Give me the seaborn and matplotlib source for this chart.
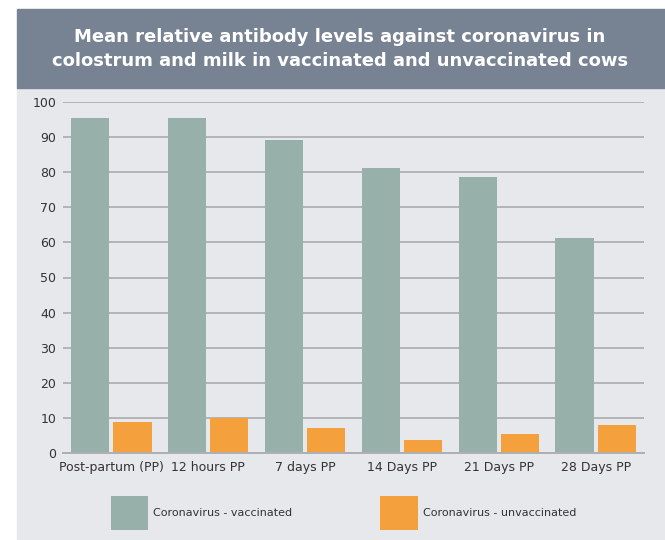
import pandas as pd
import matplotlib
matplotlib.use("Agg")
import matplotlib.pyplot as plt
from matplotlib.patches import Rectangle
import seaborn as sns

# Data
timepoints = ["Post-partum (PP)", "12 hours PP", "7 days PP",
              "14 Days PP", "21 Days PP", "28 Days PP"]
vaccinated = [95.4, 95.4, 89.3, 81.3, 78.7, 61.2]
unvaccinated = [8.9, 10.0, 7.1, 3.7, 5.3, 8.1]
series_names = ["Coronavirus - vaccinated", "Coronavirus - unvaccinated"]
y_ticks = list(range(0, 101, 10))

df = pd.DataFrame({
    "timepoint": timepoints * 2,
    "value": vaccinated + unvaccinated,
    "series": [series_names[0]] * len(timepoints) + [series_names[1]] * len(timepoints),
})

panel_color = "#e7e8ec"
band_color = "#778293"
palette = {series_names[0]: "#97b0a9", series_names[1]: "#f4a03d"}

sns.set_theme(style="white")
plt.rcParams["font.family"] = ["DejaVu Sans"]

fig = plt.figure(figsize=(6.65, 5.4), dpi=100)
fig.patch.set_facecolor("white")

# grey panel + title band (behind the axes)
fig.patches.append(Rectangle((17 / 665, 0), 1 - 17 / 665, (540 - 88) / 540,
                             transform=fig.transFigure, color=panel_color, zorder=-2))
fig.patches.append(Rectangle((17 / 665, (540 - 88) / 540), 1 - 17 / 665, 79 / 540,
                             transform=fig.transFigure, color=band_color, zorder=-2))
fig.text(340 / 665, (540 - 49) / 540,
         "Mean relative antibody levels against coronavirus in\n"
         "colostrum and milk in vaccinated and unvaccinated cows",
         ha="center", va="center", color="white", fontsize=13,
         fontweight="bold", linespacing=1.45)

ax = fig.add_axes([63 / 665, (540 - 453) / 540, 581 / 665, 351 / 540])
ax.set_facecolor(panel_color)

sns.barplot(data=df, x="timepoint", y="value", hue="series", palette=palette,
            width=0.87, gap=0.095, saturation=1, linewidth=0, ax=ax)

ax.set_xlim(-0.5, 5.5)
ax.set_ylim(0, 100)
ax.set_yticks(y_ticks)
ax.set_xlabel("")
ax.set_ylabel("")
ax.set_axisbelow(True)
ax.yaxis.grid(True, color="#b3b4b8", linewidth=1.4)
for side in ["top", "right", "left"]:
    ax.spines[side].set_visible(False)
ax.spines["bottom"].set_color("#aeafb3")
ax.spines["bottom"].set_linewidth(1.4)
ax.tick_params(axis="both", length=0, labelsize=9, colors="#333333")
ax.tick_params(axis="y", pad=5)
ax.tick_params(axis="x", pad=6)

sns.move_legend(ax, "center", bbox_to_anchor=(0.483, -0.171), ncol=2,
                frameon=False, title=None, fontsize=8,
                handlelength=3.4, handleheight=4.4, handletextpad=0.45,
                columnspacing=7.9, labelcolor="#333333")

plt.savefig("out.png", dpi=100, facecolor="white")
